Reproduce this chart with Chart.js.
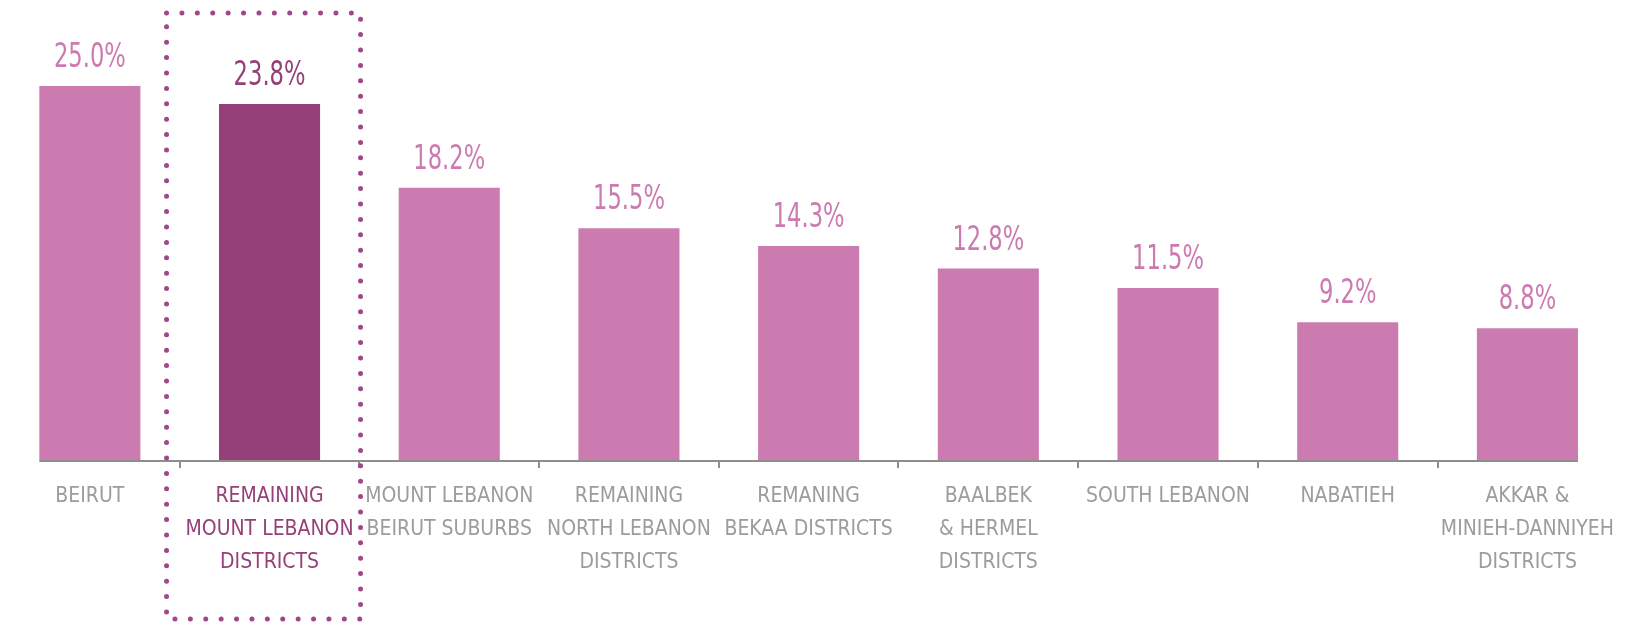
<!DOCTYPE html>
<html>
<head>
<meta charset="utf-8">
<script src="https://cdn.jsdelivr.net/npm/chart.js@4/dist/chart.umd.min.js"></script>
<style>
  html, body { margin: 0; padding: 0; background: #fff; overflow: hidden; }
  #wrap { width: 1626px; height: 623px; position: relative; }
</style>
</head>
<body>
<div id="wrap"><canvas id="chart"></canvas></div>
<script>
// regions (multi-line labels) and shares in %
const regions = [
  ['BEIRUT'],
  ['REMAINING', 'MOUNT LEBANON', 'DISTRICTS'],
  ['MOUNT LEBANON', 'BEIRUT SUBURBS'],
  ['REMAINING', 'NORTH LEBANON', 'DISTRICTS'],
  ['REMANING', 'BEKAA DISTRICTS'],
  ['BAALBEK', '& HERMEL', 'DISTRICTS'],
  ['SOUTH LEBANON'],
  ['NABATIEH'],
  ['AKKAR &', 'MINIEH-DANNIYEH', 'DISTRICTS']
];
const shares = [25.0, 23.8, 18.2, 15.5, 14.3, 12.8, 11.5, 9.2, 8.8];
const highlight = 1;

const PINK = '#CC7BB1';
const PLUM = '#954078';
const GREY = '#9B9BA0';
const FONT = "'Liberation Sans Narrow', 'DejaVu Sans Condensed', 'Liberation Sans', sans-serif";

// value labels above bars (squeezed a bit to look like the condensed original)
const valueLabels = {
  id: 'valueLabels',
  afterDatasetsDraw(chart) {
    const ctx = chart.ctx;
    const meta = chart.getDatasetMeta(0);
    ctx.save();
    ctx.font = '34px ' + FONT;
    ctx.textAlign = 'center';
    ctx.textBaseline = 'alphabetic';
    meta.data.forEach((bar, i) => {
      ctx.save();
      ctx.translate(bar.x, bar.y - 19);
      ctx.scale(0.74, 1);
      ctx.fillStyle = i === highlight ? PLUM : PINK;
      ctx.fillText(shares[i].toFixed(1) + '%', 0, 0);
      ctx.restore();
    });
    ctx.restore();
  }
};

// baseline from first bar to last bar, plus dotted box round the highlighted region
const decor = {
  id: 'decor',
  afterDraw(chart) {
    const ctx = chart.ctx;
    const meta = chart.getDatasetMeta(0);
    const first = meta.data[0], last = meta.data[meta.data.length - 1];
    const y = chart.chartArea.bottom + 1;
    ctx.save();
    ctx.strokeStyle = '#8E8E8E';
    ctx.lineWidth = 2;
    ctx.beginPath();
    ctx.moveTo(first.x - first.width / 2, y);
    ctx.lineTo(last.x + last.width / 2, y);
    ctx.stroke();

    const cx = chart.scales.x.getPixelForValue(highlight) - 6;
    const l = cx - 97, r = cx + 97, t = 13, b = 619;
    ctx.strokeStyle = '#A0468A';
    ctx.lineWidth = 5;
    ctx.lineCap = 'round';
    ctx.setLineDash([0, 15.4]);
    ctx.beginPath();
    ctx.moveTo(l, t); ctx.lineTo(r, t); ctx.lineTo(r, b); ctx.lineTo(l, b); ctx.closePath();
    ctx.stroke();
    ctx.restore();
  }
};

new Chart(document.getElementById('chart'), {
  type: 'bar',
  data: {
    labels: regions,
    datasets: [{
      data: shares,
      backgroundColor: shares.map((v, i) => i === highlight ? PLUM : PINK),
      borderWidth: 0,
      barPercentage: 0.5625,
      categoryPercentage: 1
    }]
  },
  options: {
    responsive: true,
    maintainAspectRatio: false,
    animation: false,
    layout: { padding: { left: -6, right: -16, top: 0, bottom: 0 } },
    plugins: { legend: { display: false }, tooltip: { enabled: false } },
    scales: {
      x: {
        border: { display: false },
        grid: {
          offset: true,
          drawOnChartArea: false,
          drawTicks: true,
          tickLength: 8,
          lineWidth: 2,
          // no tick marks at the two outer edges
          color: c => (c.type !== 'tick' || c.index === 0) ? 'rgba(0,0,0,0)' : '#8E8E8E'
        },
        ticks: {
          padding: 12,
          maxRotation: 0,
          autoSkip: false,
          color: c => c.index === highlight ? PLUM : GREY,
          font: { family: FONT, size: 21, lineHeight: 1.57 }
        },
        afterFit: s => { s.height = 163; }
      },
      y: { display: false, min: 0, max: 30.75 }
    }
  },
  plugins: [valueLabels, decor]
});
</script>
</body>
</html>
